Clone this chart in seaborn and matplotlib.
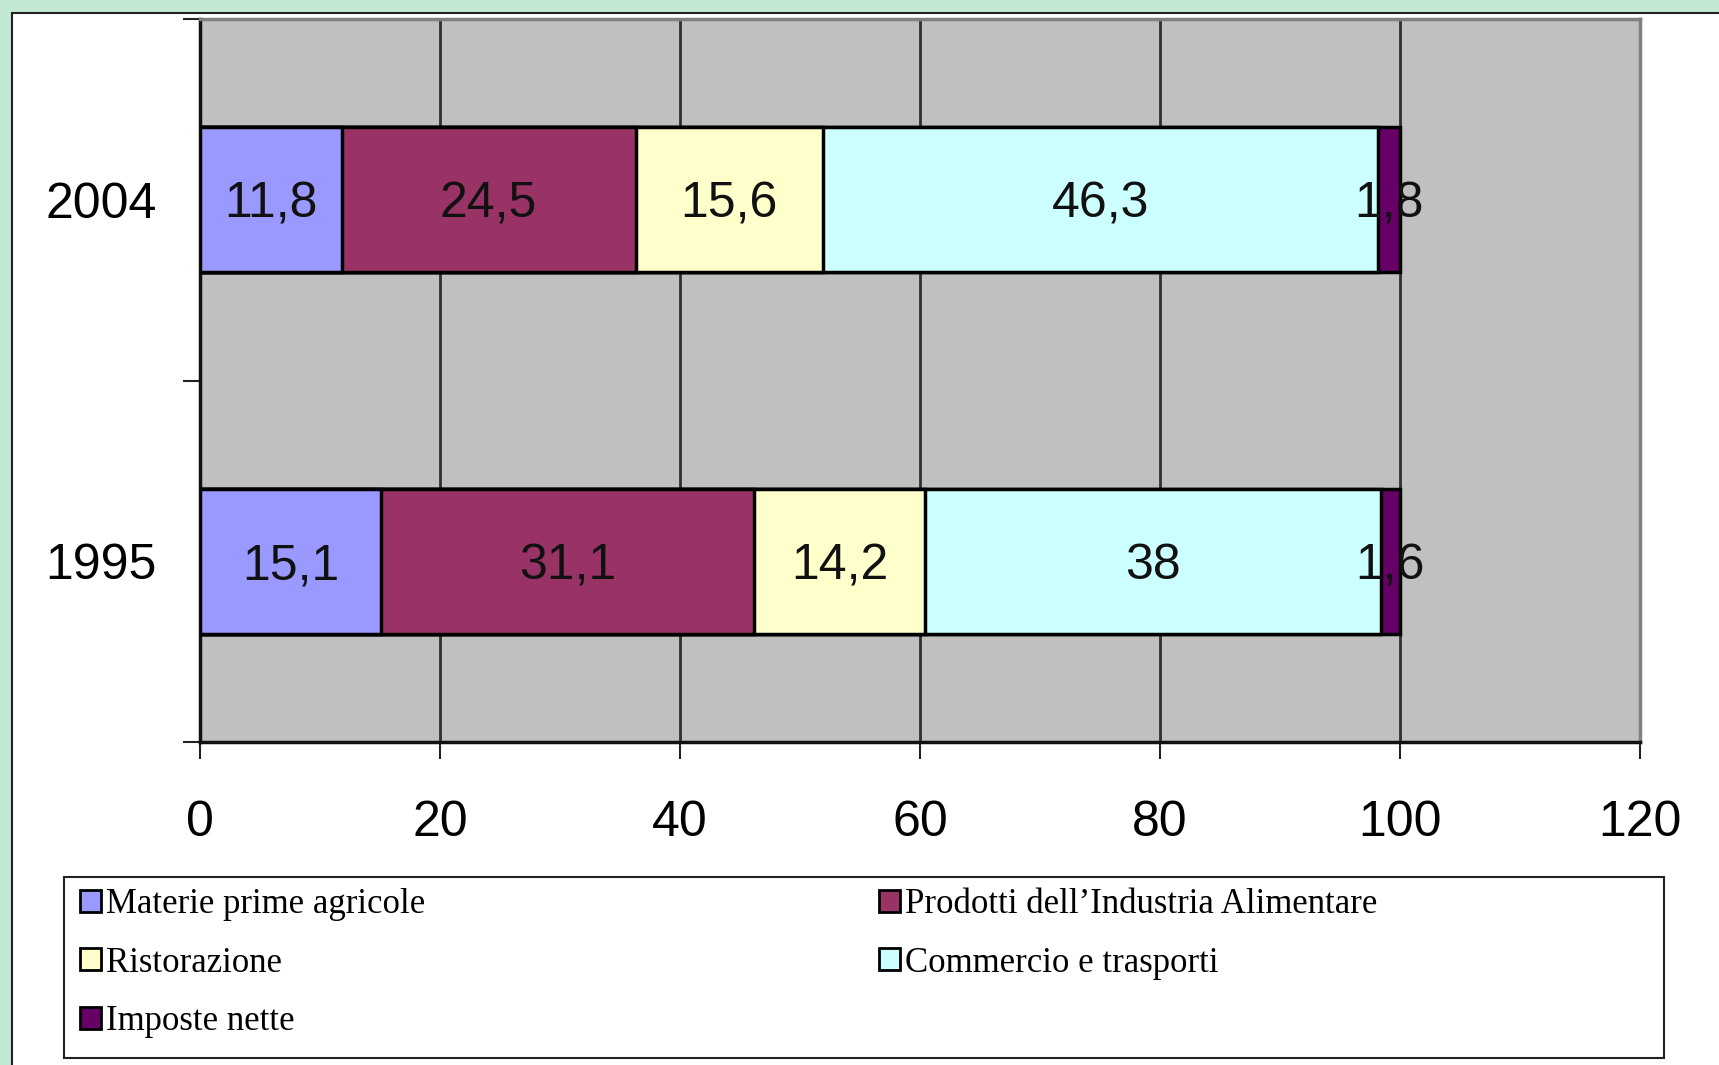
import numpy as np
import pandas as pd
import seaborn as sns
import matplotlib.pyplot as plt
from matplotlib.patches import Rectangle, Patch

# data (percent shares)
anni = ['2004', '1995']
voci = ['Materie prime agricole', "Prodotti dell\u2019Industria Alimentare",
        'Ristorazione', 'Commercio e trasporti', 'Imposte nette']
materie = [11.8, 15.1]
prodotti = [24.5, 31.1]
ristorazione = [15.6, 14.2]
commercio = [46.3, 38]
imposte = [1.8, 1.6]
colori = ['#9999FF', '#993366', '#FFFFCC', '#CCFFFF', '#660066']
x_ticks = [0, 20, 40, 60, 80, 100, 120]

sns.set_style('white')
plt.rcParams['font.family'] = ['Liberation Sans', 'DejaVu Sans']
plt.rcParams['text.color'] = 'black'
plt.rcParams['xtick.labelcolor'] = 'black'
plt.rcParams['ytick.labelcolor'] = 'black'

serie = [materie, prodotti, ristorazione, commercio, imposte]
df = pd.DataFrame({'anno': anni})
for nome, vals in zip(voci, serie):
    df[nome] = vals
cum = df[voci].cumsum(axis=1)

W, H = 1719, 1065
fig = plt.figure(figsize=(W / 100, H / 100), dpi=100, facecolor='#C2E8D3')
# white slide frame (behind everything)
fig.patches.append(Rectangle((12 / W, -0.02), 1.0, 1 - 13 / H + 0.02,
                             transform=fig.transFigure, facecolor='white',
                             edgecolor='#222222', linewidth=1.5, zorder=-5))

ax = fig.add_axes([200 / W, 1 - 742 / H, 1440 / W, 723 / H])
ax.set_facecolor('#C0C0C0')

# stacked bars: draw cumulative totals from the end backwards
for i in range(len(voci) - 1, -1, -1):
    sns.barplot(x=cum[voci[i]], y=df['anno'], order=anni, orient='h',
                color=colori[i], width=0.4, edgecolor='black', linewidth=2.5,
                saturation=1, ax=ax, zorder=3)

# labels in segment centres
for i, nome in enumerate(voci):
    for j in range(len(anni)):
        v = df[nome][j]
        centro = cum[nome][j] - v / 2
        ax.text(centro, j, f'{v:g}'.replace('.', ','), ha='center',
                va='center_baseline', fontsize=36, color='#111111', zorder=5)

ax.set_xlim(0, 120)
ax.set_ylim(1.5, -0.5)
ax.set_xticks(x_ticks)
ax.set_xticklabels([str(t) for t in x_ticks])
ax.set_yticks([0, 1])
ax.set_yticks([-0.5, 0.5, 1.5], minor=True)
ax.set_xlabel('')
ax.set_ylabel('')
ax.tick_params(axis='x', which='major', length=12, width=1.5, color='#222222',
               direction='out', bottom=True, pad=30, labelsize=36)
ax.tick_params(axis='y', which='major', length=0, pad=31, labelsize=36)
ax.tick_params(axis='y', which='minor', length=12, width=1.5, color='#222222',
               direction='out', left=True)

ax.set_axisbelow(True)
ax.grid(axis='x', color='#303030', linewidth=2)
ax.grid(axis='y', visible=False)
for s in ['left', 'bottom']:
    ax.spines[s].set_color('#111111')
    ax.spines[s].set_linewidth(2.5)
for s in ['top', 'right']:
    ax.spines[s].set_color('#808080')
    ax.spines[s].set_linewidth(2.5)

# legend box
fig.patches.append(Rectangle((64 / W, 1 - 1058 / H), 1600 / W, 181 / H,
                             transform=fig.transFigure, facecolor='white',
                             edgecolor='#222222', linewidth=1.5, zorder=-4))
handles = [Patch(facecolor=c, edgecolor='black', linewidth=2) for c in colori]
leg_kw = dict(frameon=False, loc='upper left', borderpad=0, borderaxespad=0,
              handlelength=0.6, handleheight=0.6, handletextpad=0.15,
              labelspacing=0.74,
              prop={'family': 'Liberation Serif', 'size': 25})
fig.legend([handles[0], handles[2], handles[4]], [voci[0], voci[2], voci[4]],
           bbox_to_anchor=(80 / W, 1 - 888 / H), **leg_kw)
fig.legend([handles[1], handles[3]], [voci[1], voci[3]],
           bbox_to_anchor=(879 / W, 1 - 888 / H), **leg_kw)

fig.savefig('out.png', dpi=100, facecolor=fig.get_facecolor())
